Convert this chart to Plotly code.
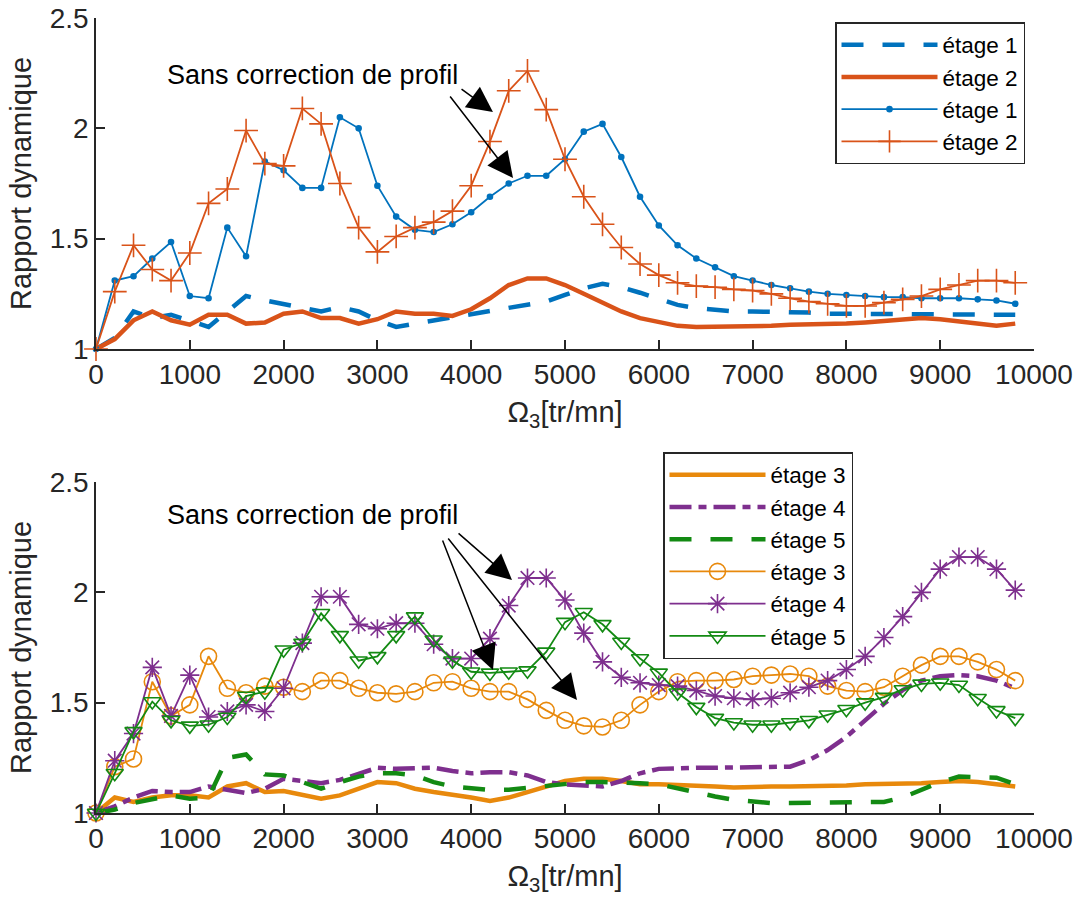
import plotly.graph_objects as go

# vitesse de rotation [tr/mn]
omega = list(range(0, 9801, 200))

# --- étages 1 et 2 ---
e1_corr = [1.0, 1.05, 1.17, 1.14, 1.155, 1.13, 1.10, 1.17, 1.24, 1.22,
           1.205, 1.19, 1.17, 1.19, 1.17, 1.13, 1.10, 1.115, 1.13, 1.14,
           1.155, 1.17, 1.19, 1.20, 1.215, 1.245, 1.275, 1.295, 1.28, 1.255,
           1.23, 1.20, 1.185, 1.175, 1.17, 1.17, 1.17, 1.165, 1.165, 1.16,
           1.16, 1.16, 1.16, 1.16, 1.16, 1.16, 1.155, 1.155, 1.155, 1.155]
e2_corr = [1.0, 1.045, 1.13, 1.17, 1.13, 1.11, 1.155, 1.155, 1.115, 1.12,
           1.16, 1.17, 1.14, 1.14, 1.115, 1.135, 1.17, 1.16, 1.16, 1.15,
           1.18, 1.23, 1.29, 1.32, 1.32, 1.29, 1.25, 1.21, 1.17, 1.14,
           1.12, 1.105, 1.10, 1.10, 1.10, 1.105, 1.105, 1.11, 1.11, 1.115,
           1.115, 1.12, 1.125, 1.13, 1.14, 1.135, 1.125, 1.11, 1.105, 1.115]
e1_sans = [1.0, 1.31, 1.33, 1.41, 1.485, 1.24, 1.23, 1.55, 1.42, 1.85,
           1.81, 1.73, 1.73, 2.05, 2.0, 1.74, 1.60, 1.54, 1.53, 1.565,
           1.62, 1.69, 1.75, 1.785, 1.785, 1.86, 1.985, 2.02, 1.87, 1.69,
           1.56, 1.47, 1.41, 1.37, 1.33, 1.31, 1.29, 1.275, 1.26, 1.25,
           1.245, 1.24, 1.235, 1.235, 1.23, 1.23, 1.23, 1.225, 1.22, 1.205]
e2_sans = [1.0, 1.26, 1.47, 1.36, 1.31, 1.435, 1.66, 1.725, 1.99, 1.84,
           1.83, 2.09, 2.02, 1.75, 1.55, 1.44, 1.51, 1.55, 1.575, 1.625,
           1.74, 1.94, 2.17, 2.26, 2.085, 1.86, 1.69, 1.565, 1.46, 1.385,
           1.335, 1.30, 1.285, 1.28, 1.27, 1.265, 1.25, 1.23, 1.215, 1.205,
           1.195, 1.195, 1.21, 1.225, 1.24, 1.27, 1.29, 1.31, 1.31, 1.30]

# --- étages 3, 4 et 5 ---
e3_corr = [1.0, 1.07, 1.05, 1.07, 1.08, 1.08, 1.07, 1.12, 1.135, 1.095,
           1.10, 1.08, 1.065, 1.08, 1.11, 1.14, 1.135, 1.11, 1.095, 1.085,
           1.07, 1.055, 1.07, 1.095, 1.12, 1.145, 1.155, 1.155, 1.145, 1.13,
           1.13, 1.125, 1.12, 1.12, 1.115, 1.12, 1.12, 1.12, 1.12, 1.12,
           1.125, 1.13, 1.13, 1.13, 1.135, 1.14, 1.145, 1.14, 1.13, 1.12]
e4_corr = [1.0, 1.03, 1.07, 1.10, 1.095, 1.095, 1.12, 1.105, 1.09, 1.11,
           1.155, 1.145, 1.135, 1.15, 1.175, 1.205, 1.20, 1.20, 1.205, 1.19,
           1.18, 1.185, 1.185, 1.17, 1.14, 1.13, 1.125, 1.12, 1.145, 1.18,
           1.20, 1.205, 1.205, 1.205, 1.205, 1.205, 1.205, 1.21, 1.24, 1.285,
           1.345, 1.42, 1.495, 1.557, 1.60, 1.62, 1.625, 1.62, 1.60, 1.565]
e5_corr = [1.0, 1.015, 1.045, 1.065, 1.08, 1.065, 1.07, 1.25, 1.265, 1.175,
           1.17, 1.14, 1.11, 1.14, 1.165, 1.18, 1.18, 1.17, 1.14, 1.12,
           1.11, 1.105, 1.105, 1.115, 1.125, 1.135, 1.14, 1.14, 1.14, 1.135,
           1.13, 1.11, 1.09, 1.075, 1.06, 1.05, 1.045, 1.045, 1.045, 1.045,
           1.045, 1.05, 1.05, 1.07, 1.105, 1.14, 1.165, 1.165, 1.16, 1.13]
e3_sans = [1.0, 1.21, 1.245, 1.595, 1.44, 1.49, 1.71, 1.565, 1.545, 1.575,
           1.57, 1.55, 1.60, 1.60, 1.565, 1.545, 1.54, 1.55, 1.59, 1.595,
           1.565, 1.55, 1.55, 1.515, 1.465, 1.42, 1.395, 1.39, 1.42, 1.49,
           1.55, 1.595, 1.60, 1.60, 1.605, 1.62, 1.625, 1.63, 1.62, 1.575,
           1.555, 1.55, 1.57, 1.62, 1.67, 1.71, 1.71, 1.685, 1.65, 1.60]
e4_sans = [1.0, 1.237, 1.36, 1.66, 1.44, 1.625, 1.435, 1.46, 1.49, 1.46,
           1.565, 1.77, 1.98, 1.98, 1.855, 1.835, 1.86, 1.86, 1.765, 1.70,
           1.70, 1.79, 1.94, 2.065, 2.065, 1.965, 1.815, 1.685, 1.615, 1.59,
           1.58, 1.575, 1.555, 1.53, 1.52, 1.515, 1.52, 1.545, 1.57, 1.60,
           1.65, 1.71, 1.795, 1.89, 2.0, 2.105, 2.16, 2.16, 2.105, 2.01]
e5_sans = [1.0, 1.18, 1.37, 1.505, 1.42, 1.395, 1.40, 1.435, 1.53, 1.55,
           1.74, 1.77, 1.905, 1.805, 1.69, 1.71, 1.805, 1.89, 1.785, 1.69,
           1.64, 1.635, 1.64, 1.645, 1.73, 1.865, 1.91, 1.855, 1.775, 1.70,
           1.635, 1.545, 1.48, 1.43, 1.41, 1.40, 1.40, 1.41, 1.42, 1.445,
           1.47, 1.50, 1.525, 1.56, 1.585, 1.59, 1.58, 1.52, 1.465, 1.43]

x_ticks = list(range(0, 10001, 1000))
x_ticklabels = [str(v) for v in x_ticks]
y_ticks = [1, 1.5, 2, 2.5]
y_ticklabels = ["1", "1.5", "2", "2.5"]

BLUE = "#0072BD"
RED = "#D95319"
ORANGE = "#E8890C"
PURPLE = "#7E2F8E"
GREEN = "#138A13"
AX = "#262626"
FONT = "Liberation Sans, Arial, sans-serif"

W, H = 1078, 903


def px_x(p):
    return p / W


def px_y(p):
    return (H - p) / H


fig = go.Figure()


def thick(y, name, color, dash, xa, ya, legend):
    fig.add_trace(go.Scatter(
        x=omega, y=y, name=name, mode="lines", xaxis=xa, yaxis=ya, legend=legend,
        line=dict(color=color, width=4.5, dash=dash)))


def thin(y, name, color, symbol, size, xa, ya, legend):
    fig.add_trace(go.Scatter(
        x=omega, y=y, name=name, mode="lines+markers", xaxis=xa, yaxis=ya,
        legend=legend, cliponaxis=False,
        line=dict(color=color, width=1.8),
        marker=dict(symbol=symbol, size=size, color=color,
                    line=dict(color=color, width=1.6))))


thick(e1_corr, "étage 1", BLUE, "22px,19px", "x", "y", "legend")
thick(e2_corr, "étage 2", RED, "solid", "x", "y", "legend")
thin(e1_sans, "étage 1", BLUE, "circle", 5, "x", "y", "legend")
thin(e2_sans, "étage 2", RED, "cross-thin-open", 17, "x", "y", "legend")

thick(e3_corr, "étage 3", ORANGE, "solid", "x2", "y2", "legend2")
thick(e4_corr, "étage 4", PURPLE, "22px,7px,8px,7px", "x2", "y2", "legend2")
thick(e5_corr, "étage 5", GREEN, "22px,19px", "x2", "y2", "legend2")
thin(e3_sans, "étage 3", ORANGE, "circle-open", 16, "x2", "y2", "legend2")
thin(e4_sans, "étage 4", PURPLE, "asterisk-open", 16, "x2", "y2", "legend2")
thin(e5_sans, "étage 5", GREEN, "triangle-down-open", 15, "x2", "y2", "legend2")

xa = dict(range=[0, 10000], tickvals=x_ticks, ticktext=x_ticklabels,
          ticks="inside", ticklen=9, tickwidth=1.5, tickcolor=AX,
          showline=True, linecolor=AX, linewidth=1.5, showgrid=False,
          zeroline=False, domain=[px_x(96), px_x(1034)], automargin=False,
          ticklabeloverflow="allow",
          tickfont=dict(size=28, color=AX, family=FONT),
          title=dict(text="Ω<sub>3</sub>[tr/mn]", standoff=12,
                     font=dict(size=29, color=AX, family=FONT)))
ya = dict(range=[1, 2.5], tickvals=y_ticks, ticktext=y_ticklabels,
          ticks="inside", ticklen=9, tickwidth=1.5, tickcolor=AX,
          showline=True, linecolor=AX, linewidth=1.5, showgrid=False,
          zeroline=False, automargin=False, ticklabeloverflow="allow",
          tickfont=dict(size=28, color=AX, family=FONT),
          title=dict(text="Rapport dynamique", standoff=10,
                     font=dict(size=29, color=AX, family=FONT)))

legend_style = dict(font=dict(size=22.5, color="black", family=FONT),
                    bordercolor=AX, borderwidth=1.5, bgcolor="white",
                    itemwidth=96, xanchor="left", yanchor="top",
                    tracegroupgap=0)

fig.update_layout(
    width=W, height=H, margin=dict(l=0, r=0, t=0, b=0, autoexpand=False),
    paper_bgcolor="white", plot_bgcolor="white",
    font=dict(family=FONT, color=AX),
    xaxis=dict(xa, anchor="y"),
    yaxis=dict(ya, domain=[px_y(349), px_y(18)], anchor="x"),
    xaxis2=dict(xa, anchor="y2"),
    yaxis2=dict(ya, domain=[px_y(813), px_y(482)], anchor="x2"),
    legend=dict(legend_style, x=px_x(835), y=px_y(22)),
    legend2=dict(legend_style, x=px_x(663), y=px_y(452)),
)

# annotations "Sans correction de profil"
fig.add_annotation(x=2313, y=2.242, xref="x", yref="y", text="Sans correction de profil",
                   showarrow=False, font=dict(size=27, color="black", family=FONT))
fig.add_annotation(x=2313, y=2.35, xref="x2", yref="y2", text="Sans correction de profil",
                   showarrow=False, font=dict(size=27, color="black", family=FONT))

arrows = [
    ("x", "y", 4232, 2.074, 3881, 2.183),
    ("x", "y", 4446, 1.775, 3763, 2.151),
    ("x2", "y2", 4435, 2.056, 3849, 2.273),
    ("x2", "y2", 4232, 1.648, 3689, 2.242),
    ("x2", "y2", 5128, 1.512, 3742, 2.251),
]
for xr, yr, hx, hy, tx, ty in arrows:
    fig.add_annotation(x=hx, y=hy, ax=tx, ay=ty, xref=xr, yref=yr, axref=xr, ayref=yr,
                       text="", showarrow=True, arrowhead=2, arrowsize=3.4,
                       arrowwidth=1.5, arrowcolor="black", standoff=0)

# drop the default 8 px body margin so the figure sits at the page origin
fig.write_html("out.html", config={"displayModeBar": False},
               post_script="document.body.style.margin='0';")
